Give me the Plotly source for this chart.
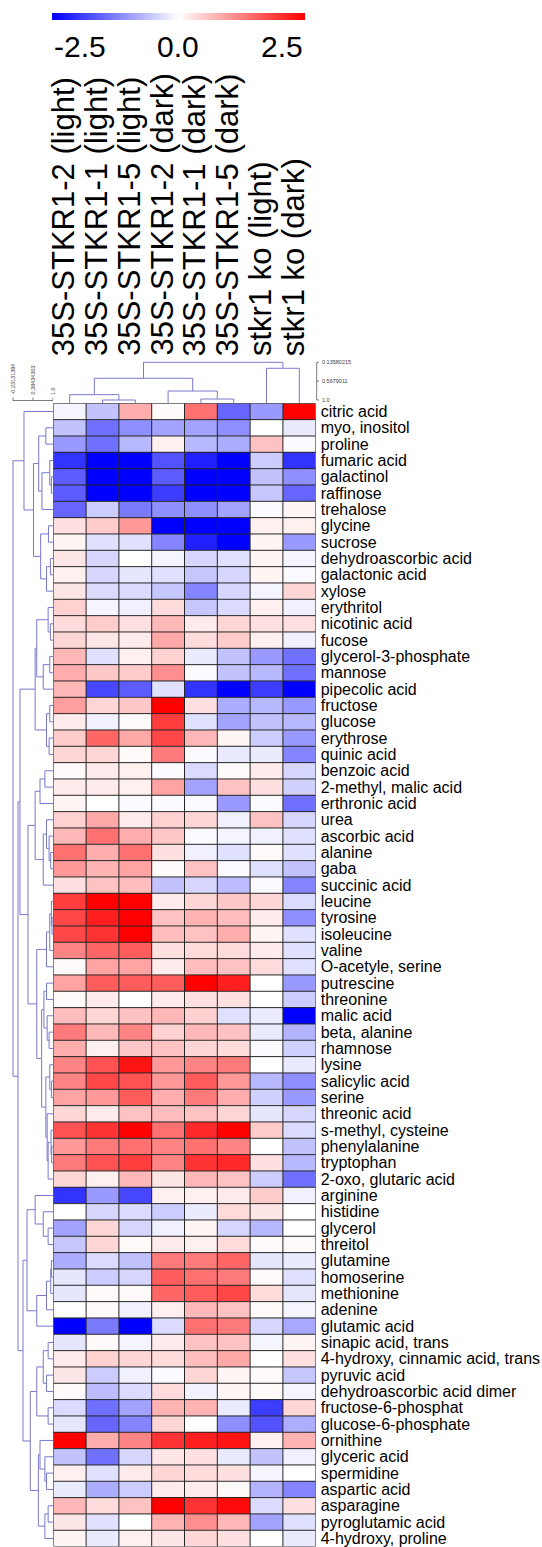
import plotly.graph_objects as go

W, H = 542, 1547
FONT = "Liberation Sans, Arial, sans-serif"

col_labels = ["35S-STKR1-2 (light)", "35S-STKR1-1 (light)", "35S-STKR1-5 (light)",
              "35S-STKR1-2 (dark)", "35S-STKR1-1 (dark)", "35S-STKR1-5 (dark)",
              "stkr1 ko (light)", "stkr1 ko (dark)"]

metabolites = [
    "citric acid", "myo, inositol", "proline", "fumaric acid", "galactinol", "raffinose",
    "trehalose", "glycine", "sucrose", "dehydroascorbic acid", "galactonic acid", "xylose",
    "erythritol", "nicotinic acid", "fucose", "glycerol-3-phosphate", "mannose",
    "pipecolic acid", "fructose", "glucose", "erythrose", "quinic acid", "benzoic acid",
    "2-methyl, malic acid", "erthronic acid", "urea", "ascorbic acid", "alanine", "gaba",
    "succinic acid", "leucine", "tyrosine", "isoleucine", "valine", "O-acetyle, serine",
    "putrescine", "threonine", "malic acid", "beta, alanine", "rhamnose", "lysine",
    "salicylic acid", "serine", "threonic acid", "s-methyl, cysteine", "phenylalanine",
    "tryptophan", "2-oxo, glutaric acid", "arginine", "histidine", "glycerol", "threitol",
    "glutamine", "homoserine", "methionine", "adenine", "glutamic acid",
    "sinapic acid, trans", "4-hydroxy, cinnamic acid, trans", "pyruvic acid",
    "dehydroascorbic acid dimer", "fructose-6-phosphat", "glucose-6-phosphate", "ornithine",
    "glyceric acid", "spermidine", "aspartic acid", "asparagine", "pyroglutamic acid",
    "4-hydroxy, proline"]

# z-scores per sample column (rows in metabolite order)
s35_2_light = [-0.1, -0.6, -1.0, -2.0, -1.6, -1.6, -1.5, 0.3, 0.1, 0.25,
               0.15, 0.25, 0.45, 0.35, 0.4, 0.7, 0.8, 0.7, 0.95, 0.2,
               0.5, 0.4, 0.05, 0.2, 0.1, 0.45, 0.7, 1.4, 1.0, 0.3,
               1.9, 1.8, 1.8, 1.2, 0.05, 0.9, 0.05, 0.65, 1.3, 0.8,
               1.2, 1.2, 0.9, 0.4, 1.7, 1.0, 1.3, 0.4, -2.0, 0.0,
               -0.9, -0.55, -0.8, -0.25, -0.25, 0.0, -2.5, -0.25, 0.2, 0.25,
               0.05, -0.35, -0.25, 2.5, -0.6, 0.15, -0.2, 0.7, 0.25, 0.1]
s35_1_light = [-0.6, -1.4, -1.4, -2.5, -2.5, -2.5, -0.5, 0.5, -0.3, -0.4,
               -0.4, -0.35, -0.1, 0.5, 0.25, -0.3, 0.55, -1.8, 0.4, -0.15,
               1.5, 0.4, 0.2, 0.2, 0.0, 0.85, 1.4, 0.8, 0.75, 0.6,
               2.5, 2.2, 2.0, 1.5, 0.9, 1.6, 0.2, 0.4, 0.7, 0.15,
               1.7, 1.8, 1.0, 0.2, 2.0, 1.3, 1.7, 0.15, -1.0, -0.4,
               0.4, 0.4, -0.35, -0.5, 0.05, 0.05, -1.3, 0.05, 0.45, -0.5,
               -0.65, -1.4, -1.5, 0.8, -1.4, -0.3, -0.8, 0.35, -0.3, -0.2]
s35_5_light = [0.8, -1.1, -0.7, -2.5, -2.5, -2.5, -1.3, 1.0, -0.3, 0.0,
               -0.25, -0.35, -0.15, 0.3, 0.2, 0.15, 0.5, -1.6, 0.55, 0.05,
               0.85, 0.05, 0.15, 0.15, -0.05, 0.2, 0.8, 1.4, 0.9, 0.65,
               2.5, 2.5, 2.5, 1.6, 0.9, 1.6, 0.0, 0.6, 1.2, 0.55,
               2.3, 1.7, 1.6, 0.6, 2.5, 1.4, 1.9, 0.7, -1.8, -0.35,
               -0.4, 0.05, -0.6, -0.4, 0.05, -0.15, -2.5, -0.1, 0.4, -0.15,
               -0.35, -0.9, -1.2, 1.2, -0.4, 0.2, -0.5, 0.6, 0.0, 0.15]
s35_2_dark = [0.05, -0.9, 0.15, -1.7, -1.6, -1.9, -1.1, -2.5, -1.2, -0.1,
              -0.3, -0.55, 0.35, 0.7, 0.85, 0.45, 1.1, -0.3, 2.5, 1.9,
              1.8, 1.3, -0.05, 0.9, -0.05, 0.45, 0.55, 0.3, 0.05, -0.6,
              0.2, 0.6, 0.65, 0.3, 0.2, 1.6, 0.2, 0.7, 0.45, 0.6,
              1.0, 1.0, 0.8, 0.65, 1.4, 1.2, 1.2, 0.25, 0.15, -0.5,
              -0.15, 0.2, 1.3, 1.6, 1.5, 0.15, -0.35, 0.2, 0.35, -0.05,
              0.35, 0.75, 0.4, 2.0, 0.25, 0.4, 0.2, 2.5, 0.75, 0.25]
s35_1_dark = [1.4, -0.9, -0.7, -2.2, -2.5, -2.5, -1.1, -2.5, -2.2, -0.4,
              -0.55, -1.2, -0.55, 0.2, 0.35, -0.2, -0.05, -2.0, 0.3, -0.3,
              0.7, -0.05, -0.35, -0.9, -0.05, 0.4, -0.05, -0.15, 0.6, -0.4,
              0.4, 0.75, 0.6, 0.35, 0.65, 2.5, 0.3, 0.45, 0.7, 0.4,
              1.2, 1.6, 1.3, 0.6, 2.1, 1.4, 2.0, 0.7, 0.15, -0.2,
              0.1, 0.15, 1.3, 1.4, 1.6, 0.7, 1.4, 0.6, 0.65, 0.4,
              -0.15, 0.75, 0.0, 2.2, 0.3, 0.35, 0.2, 2.0, 1.1, 0.4]
s35_5_dark = [-1.5, -1.1, -0.8, -2.5, -2.5, -2.5, -0.9, -2.5, -2.5, -0.3,
              -0.4, -0.4, -0.35, 0.4, 0.5, -0.6, -0.6, -2.5, -0.8, -0.9,
              0.1, -0.2, 0.05, 0.6, -1.0, -0.15, -0.1, -0.3, -0.05, -0.65,
              0.55, 0.65, 0.8, 0.35, 0.6, 2.2, 0.3, -0.3, 0.6, 0.35,
              1.3, 1.0, 0.8, 0.4, 2.5, 1.2, 2.1, 0.6, 0.2, 0.35,
              -0.4, 0.35, 1.5, 1.3, 1.8, 0.6, 1.3, 0.6, 0.85, 0.1,
              0.1, -0.2, -1.1, 2.3, -0.2, 0.3, 0.05, 2.4, 0.7, 0.3]
ko_light = [-1.0, 0.0, 0.6, -0.5, -0.6, -0.55, -0.05, 0.15, 0.1, 0.1,
            0.1, -0.1, 0.15, 0.3, 0.15, -1.0, -0.7, -1.9, -0.7, -0.6,
            -0.5, -0.2, 0.2, 0.3, -0.05, 0.6, -0.15, 0.05, -0.3, -0.05,
            0.4, 0.2, 0.1, 0.2, 0.35, 0.0, 0.0, -0.2, -0.2, -0.05,
            0.0, -0.7, -0.45, -0.25, 0.5, 0.0, 0.3, -0.5, 0.5, 0.25,
            -0.7, 0.05, -0.25, 0.05, 0.35, 0.05, -0.4, -0.1, 0.0, 0.05,
            0.05, -1.9, -1.7, 0.15, -0.6, -0.1, -0.75, -0.35, -0.9, 0.0]
ko_dark = [2.5, -0.2, -0.05, -2.0, -1.1, -1.5, 0.1, 0.15, -1.0, -0.1,
           -0.05, 0.4, -0.15, 0.3, -0.15, -1.4, -1.4, -2.5, -1.0, -0.7,
           -1.0, -1.2, -0.4, -0.45, -1.4, -0.4, -0.3, -0.3, -0.6, -1.2,
           -0.35, -1.1, -0.3, -0.3, -0.3, -1.0, -0.5, -2.5, -0.75, -0.45,
           -0.2, -1.1, -1.0, -0.4, -0.35, -0.6, -0.7, -1.4, -0.15, 0.0,
           0.0, 0.05, -0.2, -0.3, -0.25, -0.1, -0.85, 0.1, 0.3, -0.55,
           -0.1, 0.4, -0.8, 0.75, -0.15, 0.0, -1.2, 0.3, -0.3, -0.2]

# dendrograms: [left, right, similarity at merge]
col_tree = [[[0, [1, 2, 1.0], 0.878], [3, [4, 5, 0.977], 0.794], 0.502], [6, 7, 0.273], 0.13580215]

t_blue = [[1, 2, 0.78], [[3, [4, 5, 0.95], 0.90], 6, 0.66], 0.56]
t_gly = [[7, 8, 0.86], [[9, 10, 0.92], 11, 0.80], 0.62]
t_top = [0, [t_blue, t_gly, 0.40], 0.107]
u_a = [[[12, [13, 14, 0.92], 0.85], [[15, 16, 0.9], 17, 0.7], 0.5],
       [[18, 19, 0.9], [20, 21, 0.88], 0.8], 0.45]
u_b1 = [[[22, 23, 0.75], 24, 0.6], [[25, [26, [27, 28, 0.93], 0.88], 0.8], 29, 0.7], 0.45]
u_b2 = [[[[30, [31, 32, 0.97], 0.95], 33, 0.9], 34, 0.8],
        [[[35, 36, 0.8], [37, [38, 39, 0.88], 0.82], 0.72],
         [[40, [41, 42, 0.95], 0.9], [43, [[44, [45, 46, 0.96], 0.94], 47, 0.85], 0.82], 0.78],
         0.65], 0.5]
u_all = [u_a, [u_b1, u_b2, 0.231], -0.016]
b1 = [[48, [49, [50, 51, 0.85], 0.7], 0.45], [[[[52, 53, 0.95], 54, 0.93], 55, 0.8], 56, 0.5], 0.2]
b2 = [[[[57, 58, 0.85], [59, 60, 0.8], 0.7], [61, 62, 0.85], 0.5],
      [[63, [64, [65, 66, 0.8], 0.75], 0.6], [[67, 68, 0.85], 69, 0.75], 0.55], 0.3]
row_tree = [t_top, [u_all, [b1, b2, 0.077], -0.077], -0.23131394]

cbar_ticks = ["-2.5", "0.0", "2.5"]
row_scale_vals = [-0.23131394, 0.38434303, 1.0]
row_scale_text = ["-0.23131394", "0.38434303", "1.0"]
col_scale_vals = [0.13580215, 0.5679011, 1.0]
col_scale_text = ["0.13580215", "0.5679011", "1.0"]

# ---------------- geometry (pixels) ----------------
def px(p):
    return p / W

def py(p):
    return 1 - p / H

HEAT_L, HEAT_R, HEAT_T, HEAT_B = 53.3, 315.7, 403.3, 1546.6
ROW_S0, ROW_S1 = -0.6313, 1.0092        # similarity at x px 0 and heat left edge
COL_S_TOP, COL_S_BOT = -0.0317, 1.0757  # similarity at y px 355 and heat top
LINE_C = "rgb(120,120,205)"


def dendro(tree, base):
    pos, hgt = [], []

    def walk(node):
        if isinstance(node, int):
            return float(node), base
        l, r, s = node
        pl, hl = walk(l)
        pr, hr = walk(r)
        pos.extend([pl, pl, pr, pr, None])
        hgt.extend([hl, s, s, hr, None])
        return (pl + pr) / 2, s

    walk(tree)
    return pos, hgt


cols = [s35_2_light, s35_1_light, s35_5_light, s35_2_dark, s35_1_dark, s35_5_dark, ko_light, ko_dark]
z = [list(r) for r in zip(*cols)]
nrow, ncol = len(metabolites), len(col_labels)

fig = go.Figure()
fig.add_trace(go.Heatmap(
    z=z, x=list(range(ncol)), y=list(range(nrow)),
    zmin=-2.5, zmax=2.5,
    colorscale=[[0, "rgb(0,0,255)"], [0.5, "rgb(255,255,255)"], [1, "rgb(255,0,0)"]],
    hoverinfo="skip",
    colorbar=dict(orientation="h", x=px(51.7), xanchor="left", y=py(13.3), yanchor="top",
                  len=(304.3 - 51.7) / W, lenmode="fraction", thickness=7,
                  thicknessmode="pixels", outlinewidth=0, showticklabels=False,
                  ticks="", xpad=0, ypad=0),
    xaxis="x", yaxis="y"))

rp, rh = dendro(row_tree, ROW_S1)
fig.add_trace(go.Scatter(x=rh, y=rp, mode="lines", line=dict(color=LINE_C, width=1),
                         hoverinfo="skip", xaxis="x2", yaxis="y2", showlegend=False))
cp, ch = dendro(col_tree, COL_S_BOT)
fig.add_trace(go.Scatter(x=cp, y=ch, mode="lines", line=dict(color=LINE_C, width=1),
                         hoverinfo="skip", xaxis="x3", yaxis="y3", showlegend=False))

heat_dom_x = [px(HEAT_L), px(HEAT_R)]
heat_dom_y = [py(HEAT_B), py(HEAT_T)]
hidden = dict(visible=False, showgrid=False, zeroline=False)

fig.update_layout(
    width=W, height=H, margin=dict(l=0, r=0, t=0, b=0),
    paper_bgcolor="white", plot_bgcolor="white", showlegend=False,
    font=dict(family=FONT, color="black"),
    xaxis=dict(domain=heat_dom_x, range=[-0.5, ncol - 0.5], **hidden),
    yaxis=dict(domain=heat_dom_y, range=[nrow - 0.5, -0.5], side="right",
               tickmode="array", tickvals=list(range(nrow)), ticktext=metabolites,
               tickfont=dict(size=16, family=FONT, color="black"), ticks="",
               ticklabelstandoff=4, ticklabeloverflow="allow",
               showgrid=False, zeroline=False, showline=False),
    xaxis2=dict(domain=[0, px(HEAT_L)], range=[ROW_S0, ROW_S1], anchor="y2", **hidden),
    yaxis2=dict(domain=heat_dom_y, range=[nrow - 0.5, -0.5], anchor="x2", **hidden),
    xaxis3=dict(domain=heat_dom_x, range=[-0.5, ncol - 0.5], anchor="y3", **hidden),
    yaxis3=dict(domain=[py(HEAT_T), py(355)], range=[COL_S_BOT, COL_S_TOP], anchor="x3", **hidden),
)

shapes = []
for i in range(ncol + 1):
    shapes.append(dict(type="line", xref="x", yref="y", x0=i - 0.5, x1=i - 0.5,
                       y0=-0.5, y1=nrow - 0.5, line=dict(color="#262626", width=1), layer="above"))
for j in range(nrow + 1):
    shapes.append(dict(type="line", xref="x", yref="y", x0=-0.5, x1=ncol - 0.5,
                       y0=j - 0.5, y1=j - 0.5, line=dict(color="#262626", width=1), layer="above"))

# row dendrogram scale
SC = "rgb(90,90,90)"
shapes.append(dict(type="line", xref="x2", yref="paper", x0=row_scale_vals[0], x1=row_scale_vals[-1],
                   y0=py(400.5), y1=py(400.5), line=dict(color=SC, width=0.8)))
for v in row_scale_vals:
    shapes.append(dict(type="line", xref="x2", yref="paper", x0=v, x1=v,
                       y0=py(400.5), y1=py(397.5), line=dict(color=SC, width=0.8)))
# column dendrogram scale
shapes.append(dict(type="line", xref="paper", yref="y3", x0=px(316.7), x1=px(316.7),
                   y0=col_scale_vals[0], y1=col_scale_vals[-1], line=dict(color=SC, width=0.8)))
for v in col_scale_vals:
    shapes.append(dict(type="line", xref="paper", yref="y3", x0=px(316.7), x1=px(319),
                       y0=v, y1=v, line=dict(color=SC, width=0.8)))

ann = []
for i, lab in enumerate(col_labels):
    ann.append(dict(x=i, xref="x", y=py(358), yref="paper", text=lab, textangle=-90,
                    xanchor="center", yanchor="bottom", showarrow=False, xshift=-6,
                    font=dict(size=31, family=FONT, color="black")))
for t, xp, anc in zip(cbar_ticks, [52, 178, 304.5], ["left", "center", "right"]):
    ann.append(dict(x=px(xp), xref="paper", y=py(46), yref="paper", text=t, showarrow=False,
                    xanchor=anc, yanchor="middle", font=dict(size=30, family=FONT, color="black")))
for v, t in zip(row_scale_vals, row_scale_text):
    ann.append(dict(x=v, xref="x2", y=py(397), yref="paper", text=t, textangle=-90,
                    showarrow=False, xanchor="center", yanchor="bottom",
                    font=dict(size=5.5, family=FONT, color="rgb(60,60,60)")))
for v, t in zip(col_scale_vals, col_scale_text):
    ann.append(dict(x=px(320), xref="paper", y=v, yref="y3", text=t, showarrow=False,
                    xanchor="left", yanchor="middle",
                    font=dict(size=5.5, family=FONT, color="rgb(60,60,60)")))

fig.update_layout(shapes=shapes, annotations=ann)

fig.write_html("out.html", config={"displayModeBar": False},
               post_script="document.body.style.margin='0';document.body.style.overflow='hidden';")
